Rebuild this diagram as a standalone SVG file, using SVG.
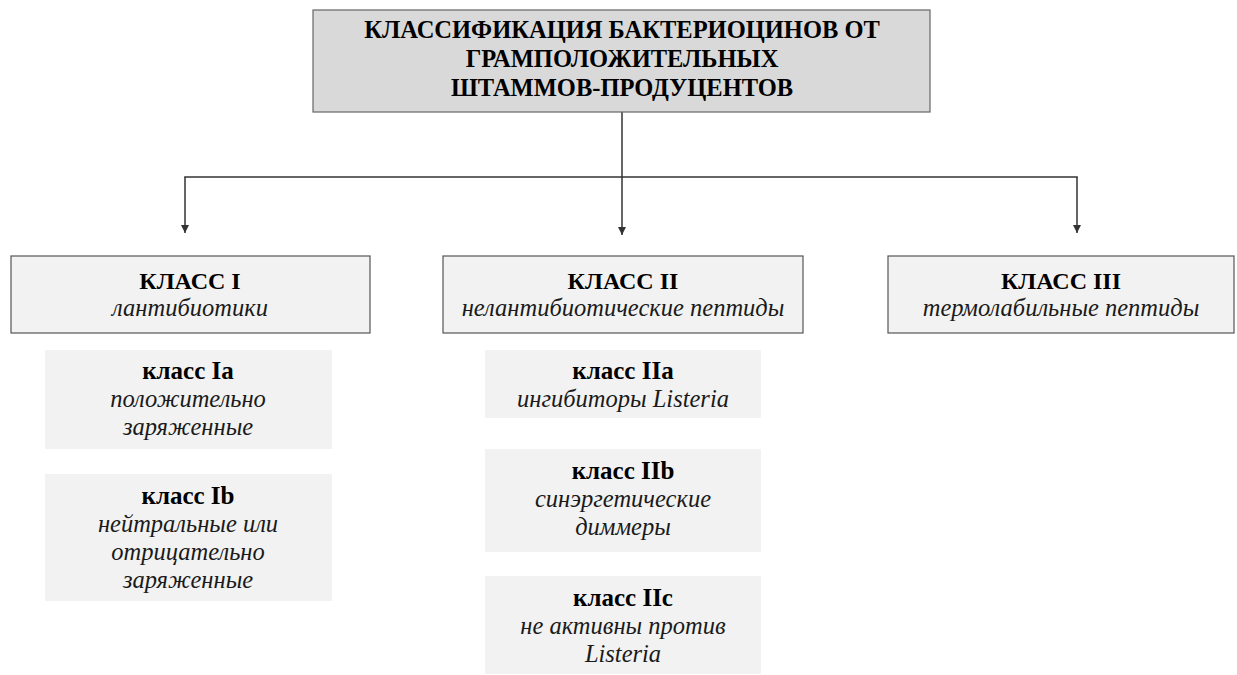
<svg xmlns="http://www.w3.org/2000/svg" width="1237" height="675" viewBox="0 0 1237 675">
<defs>
<style>
.b{font-family:"Liberation Serif","Times New Roman",serif;font-weight:bold;font-size:24px;fill:#000;text-anchor:middle}
.t{font-size:24.5px}
.s{font-size:25px}
.i{font-family:"Liberation Serif","Times New Roman",serif;font-style:italic;font-size:24.5px;fill:#1a1a1a;text-anchor:middle}
.top{fill:#d9d9d9;stroke:#666;stroke-width:1.2}
.cls{fill:#f2f2f2;stroke:#555;stroke-width:1.2}
.sub{fill:#f2f2f2}
.ln{fill:none;stroke:#333;stroke-width:1.5}
</style>
<marker id="ah" viewBox="0 0 10 10" refX="10" refY="5" markerWidth="8" markerHeight="8" markerUnits="userSpaceOnUse" orient="auto">
<path d="M0,0 L10,5 L0,10 z" fill="#333"/>
</marker>
</defs>
<rect width="1237" height="675" fill="#fff"/>
<g id="connectors">
<line class="ln" x1="622" y1="112" x2="622" y2="235" marker-end="url(#ah)"/>
<line class="ln" x1="184.25" y1="177" x2="1077.75" y2="177"/>
<line class="ln" x1="185" y1="177" x2="185" y2="233" marker-end="url(#ah)"/>
<line class="ln" x1="1077" y1="177" x2="1077" y2="233" marker-end="url(#ah)"/>
</g>
<g id="root">
<rect class="top" x="313" y="10" width="617" height="102"/>
<text class="b t" x="622" y="38">КЛАССИФИКАЦИЯ БАКТЕРИОЦИНОВ ОТ</text>
<text class="b t" x="622" y="67">ГРАМПОЛОЖИТЕЛЬНЫХ</text>
<text class="b t" x="622" y="96">ШТАММОВ-ПРОДУЦЕНТОВ</text>
</g>
<g id="class1">
<rect class="cls" x="11" y="256" width="359" height="77"/>
<text class="b" x="190" y="289">КЛАСС I</text>
<text class="i" x="190" y="316">лантибиотики</text>
</g>
<g id="class2">
<rect class="cls" x="443" y="256" width="360" height="77"/>
<text class="b" x="623" y="289">КЛАСС II</text>
<text class="i" x="623" y="316">нелантибиотические пептиды</text>
</g>
<g id="class3">
<rect class="cls" x="888" y="256" width="346" height="77"/>
<text class="b" x="1061" y="289">КЛАСС III</text>
<text class="i" x="1061" y="316">термолабильные пептиды</text>
</g>
<g id="class1a">
<rect class="sub" x="45" y="350" width="287" height="99"/>
<text class="b s" x="188" y="379">класс Ia</text>
<text class="i" x="188" y="407">положительно</text>
<text class="i" x="188" y="435">заряженные</text>
</g>
<g id="class1b">
<rect class="sub" x="45" y="474" width="287" height="127"/>
<text class="b s" x="188" y="504">класс Ib</text>
<text class="i" x="188" y="532">нейтральные или</text>
<text class="i" x="188" y="560">отрицательно</text>
<text class="i" x="188" y="588">заряженные</text>
</g>
<g id="class2a">
<rect class="sub" x="485" y="350" width="276" height="68"/>
<text class="b s" x="623" y="379">класс IIa</text>
<text class="i" x="623" y="407">ингибиторы Listeria</text>
</g>
<g id="class2b">
<rect class="sub" x="485" y="449" width="276" height="103"/>
<text class="b s" x="623" y="479">класс IIb</text>
<text class="i" x="623" y="507">синэргетические</text>
<text class="i" x="623" y="535">диммеры</text>
</g>
<g id="class2c">
<rect class="sub" x="485" y="576" width="276" height="98"/>
<text class="b s" x="623" y="606">класс IIc</text>
<text class="i" x="623" y="634">не активны против</text>
<text class="i" x="623" y="662">Listeria</text>
</g>
</svg>
